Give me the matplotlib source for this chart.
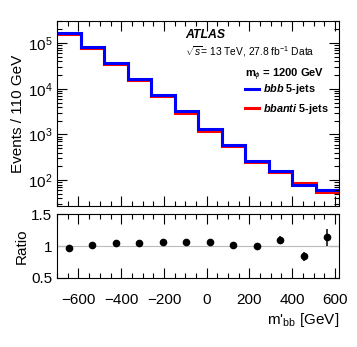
import numpy as np
import matplotlib
matplotlib.use('Agg')
import matplotlib.pyplot as plt
from matplotlib.ticker import MultipleLocator, FixedLocator

# data
edges = [-700, -590, -480, -370, -260, -150, -40, 70, 180, 290, 400, 510, 620]
bbb = [1.65e5, 8.2e4, 3.7e4, 1.65e4, 7.3e3, 3.2e3, 1.33e3, 580, 265, 155, 77, 60]
bbanti = [1.62e5, 8.0e4, 3.4e4, 1.55e4, 6.8e3, 2.9e3, 1.2e3, 560, 250, 148, 87, 55]
ratio = [0.965, 1.01, 1.04, 1.045, 1.07, 1.06, 1.06, 1.015, 1.005, 1.09, 0.84, 1.135]
ratio_err = [0.01, 0.01, 0.01, 0.01, 0.015, 0.015, 0.02, 0.02, 0.04, 0.06, 0.07, 0.13]

plt.rcParams['font.family'] = ['Liberation Sans', 'DejaVu Sans']
plt.rcParams['mathtext.fontset'] = 'custom'
plt.rcParams['mathtext.rm'] = 'Liberation Sans'
plt.rcParams['mathtext.it'] = 'Liberation Sans:italic'
plt.rcParams['mathtext.bf'] = 'Liberation Sans:bold'
plt.rcParams['mathtext.bfit'] = 'Liberation Sans:italic:bold'

centers = [(edges[i] + edges[i + 1]) / 2 for i in range(len(edges) - 1)]

fig = plt.figure(figsize=(3.57, 3.47), dpi=100)
ax = fig.add_axes([0.160, 0.406, 0.790, 0.533])
rax = fig.add_axes([0.160, 0.199, 0.790, 0.184])

ax.stairs(bbanti, edges, baseline=None, color='#ff0000', lw=2.2, label=r'$\mathbfit{bbanti}$ 5-jets')
ax.stairs(bbb, edges, baseline=None, color='#0000ff', lw=2.2, label=r'$\mathbfit{bbb}$ 5-jets')
ax.set_yscale('log')
ax.set_xlim(-700, 620)
ax.set_ylim(10**1.43, 10**5.48)
ax.set_ylabel('Events / 110 GeV', fontsize=11, labelpad=2)

for a in (ax, rax):
    a.tick_params(which='both', direction='in', top=True, right=True, labelsize=11, width=0.8)
    a.tick_params(which='major', length=7)
    a.tick_params(which='minor', length=3.5)
    a.xaxis.set_major_locator(MultipleLocator(200))
    a.xaxis.set_minor_locator(MultipleLocator(50))
    for s in a.spines.values():
        s.set_linewidth(0.8)
ax.tick_params(axis='x', labelbottom=False)
rax.tick_params(axis='x', pad=11)

ax.text(0.455, 0.91, 'ATLAS', transform=ax.transAxes, fontsize=8.8, fontweight='bold', style='italic')
ax.text(0.455, 0.815, r'$\sqrt{s}$= 13 TeV, 27.8 fb$^{-1}$ Data', transform=ax.transAxes, fontsize=7.4)
ax.text(0.667, 0.695, r'm$_{\phi}$ = 1200 GeV', transform=ax.transAxes, fontsize=8, fontweight='bold')

h, l = ax.get_legend_handles_labels()
leg = ax.legend(h[::-1], l[::-1], loc='upper left', bbox_to_anchor=(0.64, 0.71), frameon=False,
                prop={'size': 7.8, 'weight': 'bold'}, handlelength=1.3, handletextpad=0.3,
                labelspacing=0.5, borderpad=0.2)
for line in leg.get_lines():
    line.set_linewidth(2.2)

rax.axhline(1, color='#bbbbbb', lw=0.8)
rax.errorbar(centers, ratio, yerr=ratio_err, fmt='o', color='black', ms=4.5, elinewidth=1.1, capsize=0)
rax.set_xlim(-700, 620)
rax.set_ylim(0.5, 1.5)
rax.yaxis.set_major_locator(FixedLocator([0.5, 1, 1.5]))
rax.set_yticklabels(['0.5', '1', '1.5'])
rax.set_ylabel('Ratio', fontsize=11, labelpad=2)
rax.set_xlabel(r"m$'_{\rm bb}$ [GeV]", fontsize=11, loc='right', labelpad=3)

fig.savefig('out.png', dpi=100)
